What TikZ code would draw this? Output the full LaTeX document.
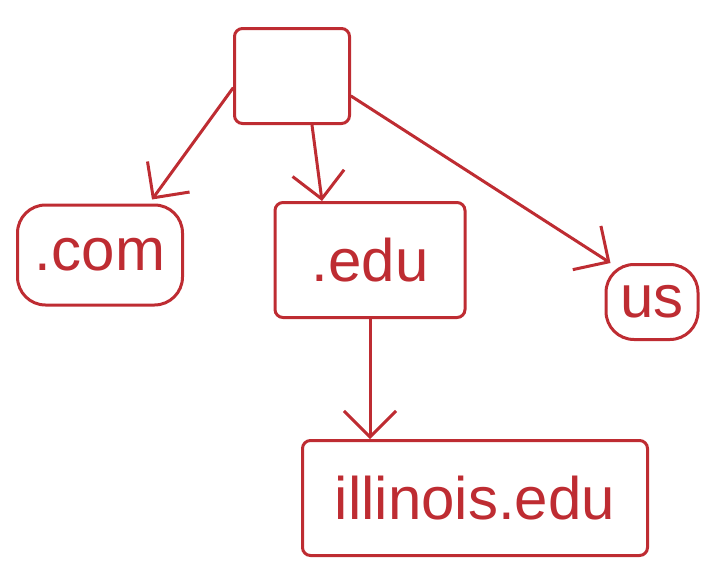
\documentclass[tikz,border=0pt]{standalone}
\usepackage{fontspec}
\setmainfont{Liberation Sans}
\usetikzlibrary{arrows.meta}
\definecolor{pen}{RGB}{190,44,50}
\tikzset{
  box/.style={draw=pen, line width=3pt, rounded corners=8pt, inner sep=0pt,
    text=pen, font=\fontsize{60}{64}\selectfont},
  blob/.style={box, rounded corners=28pt},
  arr/.style={draw=pen, line width=3pt, line cap=round,
    -{Straight Barb[length=26pt,width=52pt,line width=3pt]}}
}
\begin{document}
\begin{tikzpicture}[x=1pt,y=-1pt]
\useasboundingbox (0,0) rectangle (702,563);
\node[box, minimum width=115pt, minimum height=95pt] (root) at (292,76) {};
\node[blob, minimum width=165pt, minimum height=100pt] (com) at (100,255) {.com};
\node[box, minimum width=190pt, minimum height=115pt] (edu) at (370,260) {.edu};
\node[blob, minimum width=92pt, minimum height=75pt] (us) at (652,302) {us};
\node[box, minimum width=345pt, minimum height=115pt] (ill) at (475,498) {illinois.edu};
\draw[arr] ([yshift=-12pt]root.west) -- ([xshift=52pt,yshift=4pt]com.north);
\draw[arr] ([xshift=20pt]root.south) -- ([xshift=-48pt]edu.north);
\draw[arr] ([yshift=-20pt]root.east) -- ([xshift=6pt]us.north west);
\draw[arr] (edu.south) -- (edu.south |- ill.north);
\end{tikzpicture}
\end{document}
